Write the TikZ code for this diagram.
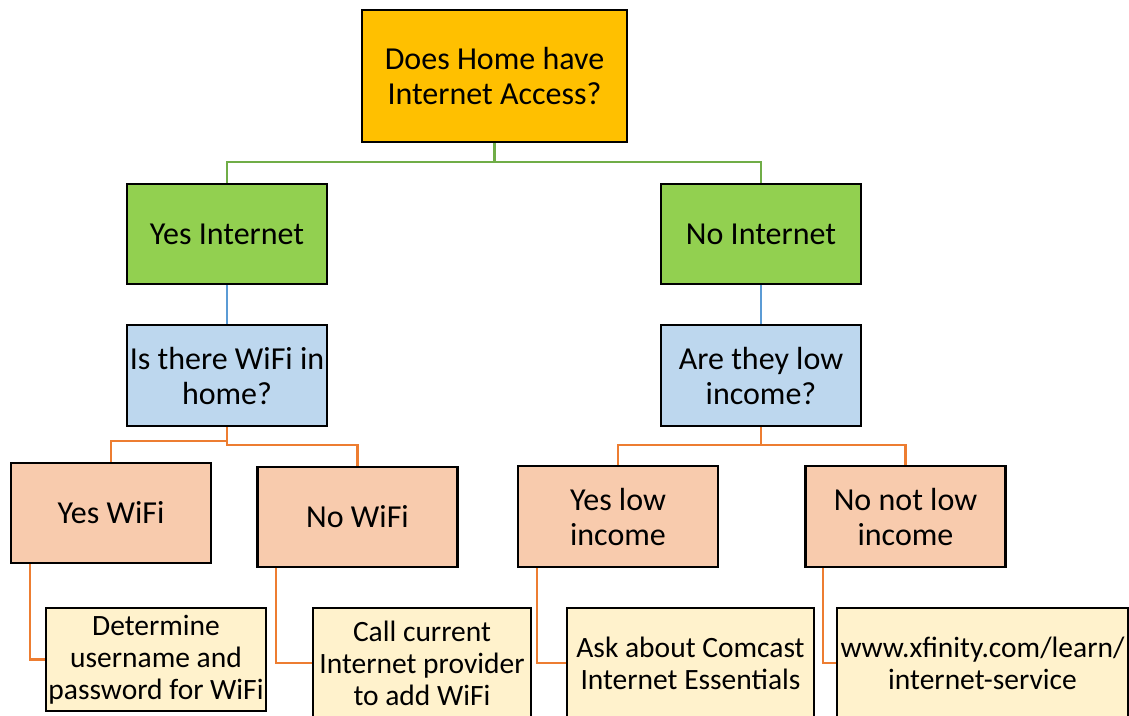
\documentclass[tikz,border=0pt]{standalone}
\usepackage{fontspec}
\setmainfont{Carlito}
\definecolor{cRoot}{HTML}{FFC000}
\definecolor{cGreen}{HTML}{92D050}
\definecolor{cBlue}{HTML}{BDD7EE}
\definecolor{cSalmon}{HTML}{F8CBAD}
\definecolor{cCream}{HTML}{FFF2CC}
\definecolor{lGreen}{HTML}{70AD47}
\definecolor{lBlue}{HTML}{5B9BD5}
\definecolor{lOrange}{HTML}{ED7D31}
\begin{document}
\begin{tikzpicture}[x=1pt,y=-1pt,
  box/.style={draw=black,line width=2.5pt,rectangle,inner sep=0pt,align=center,
    font=\fontsize{32}{35}\selectfont},
  sbox/.style={box,font=\fontsize{29.5}{32}\selectfont},
  gline/.style={draw=lGreen,line width=2.2pt},
  bline/.style={draw=lBlue,line width=2.2pt},
  oline/.style={draw=lOrange,line width=2.2pt}]
\useasboundingbox (0,0) rectangle (1129,715);
\node[box,fill=cRoot,minimum width=265pt,minimum height=132pt] (root) at (494.5,76) {Does Home have\\Internet Access?};
\node[box,fill=cGreen,minimum width=200pt,minimum height=100pt] (yi) at (227,234) {Yes Internet};
\node[box,fill=cGreen,minimum width=200pt,minimum height=100pt] (ni) at (761,234) {No Internet};
\node[box,fill=cBlue,minimum width=200pt,minimum height=101pt] (wifi) at (227,375.5) {Is there WiFi in\\home?};
\node[box,fill=cBlue,minimum width=200pt,minimum height=101pt] (low) at (761,375.5) {Are they low\\income?};
\node[box,fill=cSalmon,minimum width=200pt,minimum height=100pt] (yw) at (111,513) {Yes WiFi};
\node[box,fill=cSalmon,minimum width=200pt,minimum height=100pt] (nw) at (357.5,517) {No WiFi};
\node[box,fill=cSalmon,minimum width=200pt,minimum height=101pt] (yl) at (618,516.5) {Yes low\\income};
\node[box,fill=cSalmon,minimum width=200pt,minimum height=101pt] (nl) at (905.5,516.5) {No not low\\income};
\node[sbox,fill=cCream,minimum width=220pt,minimum height=103pt] (det) at (156,659.5) {Determine\\username and\\password for WiFi};
\node[sbox,fill=cCream,minimum width=218pt,minimum height=110pt] (call) at (422,663) {Call current\\Internet provider\\to add WiFi};
\node[sbox,fill=cCream,minimum width=247pt,minimum height=110pt] (ask) at (690.5,663) {Ask about Comcast\\Internet Essentials};
\node[sbox,fill=cCream,minimum width=291pt,minimum height=110pt] (www) at (982.5,663) {www.xfinity.com/learn/\\internet-service};
% connectors
\draw[gline] (root.south) -- (root.south |- 0,162) -| (yi.north);
\draw[gline] (root.south) -- (root.south |- 0,162) -| (ni.north);
\draw[bline] (yi.south) -- (wifi.north);
\draw[bline] (ni.south) -- (low.north);
\draw[oline] (wifi.south) -- (wifi.south |- 0,441) -| (yw.north);
\draw[oline] (wifi.south) -- (wifi.south |- 0,445) -| (nw.north);
\draw[oline] (low.south) -- (low.south |- 0,445) -| (yl.north);
\draw[oline] (low.south) -- (low.south |- 0,445) -| (nl.north);
\draw[oline] (det.west) -| ([xshift=20pt]yw.south west);
\draw[oline] (call.west) -| ([xshift=20pt]nw.south west);
\draw[oline] (ask.west) -| ([xshift=20pt]yl.south west);
\draw[oline] (www.west) -| ([xshift=19pt]nl.south west);
\end{tikzpicture}
\end{document}
